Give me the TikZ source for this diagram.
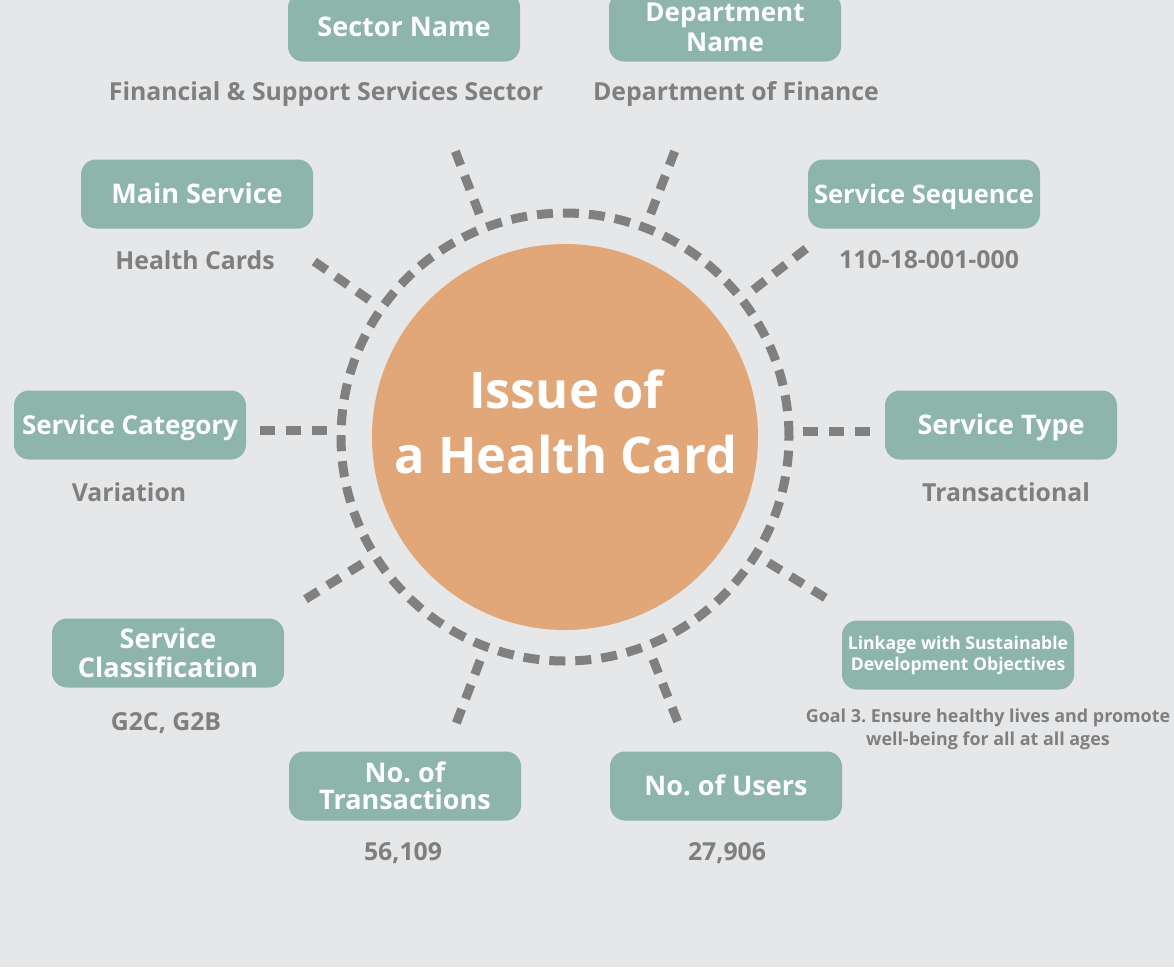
\documentclass[tikz,border=0pt]{standalone}
\usepackage{fontspec}
\setmainfont{Open Sans}
\usetikzlibrary{calc}
\definecolor{bg}{HTML}{E6E7E9}
\definecolor{teal}{HTML}{8DB5AC}
\definecolor{orng}{HTML}{E2A779}
\definecolor{gtext}{HTML}{7F7F7F}
\definecolor{gdash}{HTML}{808080}
\frenchspacing
\begin{document}
\frenchspacing
\begin{tikzpicture}[x=1pt,y=-1pt,
  box/.style={fill=teal,rounded corners=15pt,minimum width=232pt,minimum height=69pt,
    text=white,font=\bfseries\fontsize{27}{29}\selectfont,align=center,inner sep=2pt},
  single/.style={text height=19pt,text depth=0pt},
  val/.style={text=gtext,font=\bfseries\fontsize{24.8}{27}\selectfont,align=center},
  spoke/.style={draw=gdash,line width=9pt,dash pattern=on 15pt off 11pt},
  ring/.style={draw=gdash,line width=9pt,dash pattern=on 16pt off 10pt}]
\fill[bg] (0,0) rectangle (1174,967);
\useasboundingbox (0,0) rectangle (1174,967);
\coordinate (c) at (565,437);
\node[circle,fill=orng,minimum size=386pt,inner sep=0pt] (core) at (c) {};
\node[text=white,font=\bfseries\fontsize{50.5}{65}\selectfont,align=center] (title) at (566,422) {Issue of\\a Health Card};
\node[circle,ring,minimum size=448pt,inner sep=0pt] (ringc) at (c) {};
% boxes
\node[box,single] (sector) at (404,27) {Sector Name};
\node[box,font=\bfseries\fontsize{26}{30}\selectfont] (dept) at (725,27) {Department\\Name};
\node[box,single] (main) at (197,194) {Main Service};
\node[box,single,font=\bfseries\fontsize{25.5}{28}\selectfont,text height=18pt] (seq) at (924,194) {Service Sequence};
\node[box,single,font=\bfseries\fontsize{26}{28}\selectfont,text height=18.5pt] (cat) at (130,425) {Service Category};
\node[box,single] (type) at (1001,425) {Service Type};
\node[box] (cls) at (168,653) {Service\\Classification};
\node[box,font=\bfseries\fontsize{17.6}{21}\selectfont] (link) at (958,655) {Linkage with Sustainable\\Development Objectives};
\node[box,font=\bfseries\fontsize{27}{27}\selectfont] (trans) at (405,786) {No. of\\Transactions};
\node[box,single] (users) at (726,786) {No. of Users};
% values
\node[val] (vsector) at (326,94) {Financial \& Support Services Sector};
\node[val] (vdept) at (736,94) {Department of Finance};
\node[val] (vmain) at (195,260) {Health Cards};
\node[val] (vseq) at (929,260) {110-18-001-000};
\node[val] (vcat) at (129,492) {Variation};
\node[val] (vtype) at (1006,492) {Transactional};
\node[val] (vcls) at (166,723) {G2C, G2B};
\node[val,font=\bfseries\fontsize{17.9}{23}\selectfont] (vlink) at (988,729) {Goal 3. Ensure healthy lives and promote\\well-being for all at all ages};
\node[val] (vtrans) at (403,853) {56,109};
\node[val] (vusers) at (727,853) {27,906};
% spokes
\foreach \n/\a in {tl/-111,tr/-69,ms/-145,ss/-38,cl/-212,lk/31.7,nt/110.8,nu/68.4}{
  \coordinate (\n o) at ($(c)+(\a:306)$);
  \coordinate (\n i) at ($(c)+(\a:232)$);
  \draw[spoke] (\n o) -- (\n i);
}
\coordinate (sco) at (260,430);
\coordinate (sci) at (330,430);
\draw[spoke] (sco) -- (sci);
\coordinate (sto) at (870,431);
\coordinate (sti) at (800,431);
\draw[spoke] (sto) -- (sti);
\end{tikzpicture}
\end{document}
